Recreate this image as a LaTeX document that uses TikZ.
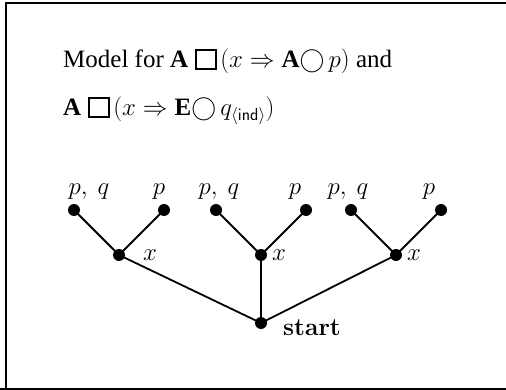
\documentclass[tikz,border=0pt]{standalone}
\usepackage[no-math]{fontspec}
\setmainfont{Liberation Serif}
\newcommand{\bigbox}{\mbox{\setlength{\fboxsep}{0pt}\setlength{\fboxrule}{1.8pt}\fbox{\rule{0pt}{17pt}\hspace{18pt}}}}
\tikzset{
  world/.style={circle,fill=black,inner sep=0pt,minimum size=12pt},
  edge/.style={line width=1.8pt},
  lbl/.style={anchor=base,inner sep=0pt,font=\fontsize{24}{28}\selectfont},
  ttl/.style={anchor=base west,inner sep=0pt,font=\fontsize{25}{30}\selectfont}
}
\begin{document}
\begin{tikzpicture}[x=1pt,y=-1pt]
\useasboundingbox (0,0) rectangle (506,390);
\draw[line width=2.4pt] (6,395) -- (6,3) -- (515,3);
\draw[line width=2.4pt] (0,389) -- (515,389);
\node[ttl] (t1) at (63,68) {Model for \textbf{A}\hspace{7pt}\bigbox\hspace{3.5pt}$(x\Rightarrow\textbf{A}{\bigcirc}\,p)$ and};
\node[ttl] (t2) at (63,116) {\textbf{A}\hspace{7pt}\bigbox\hspace{3.5pt}$(x\Rightarrow\textbf{E}{\bigcirc}\,q_{\langle\mathsf{ind}\rangle})$};
% tree
\node[world] (s) at (261,323) {};
\node[world] (m1) at (119,255) {};
\node[world] (m2) at (261,255) {};
\node[world] (m3) at (396,255) {};
\node[world] (l1) at (74,210) {};
\node[world] (l2) at (164,210) {};
\node[world] (l3) at (216,210) {};
\node[world] (l4) at (306,210) {};
\node[world] (l5) at (351,210) {};
\node[world] (l6) at (441,210) {};
\draw[edge] (s.center) -- (m1.center) (s.center) -- (m2.center) (s.center) -- (m3.center);
\draw[edge] (m1.center) -- (l1.center) (m1.center) -- (l2.center);
\draw[edge] (m2.center) -- (l3.center) (m2.center) -- (l4.center);
\draw[edge] (m3.center) -- (l5.center) (m3.center) -- (l6.center);
% labels
\node[lbl] (a1) at (89,195) {$p,\ q$};
\node[lbl] (b1) at (159,195) {$p$};
\node[lbl] (a2) at (219,195) {$p,\ q$};
\node[lbl] (b2) at (295,195) {$p$};
\node[lbl] (a3) at (348,195) {$p,\ q$};
\node[lbl] (b3) at (429,195) {$p$};
\node[lbl] (x1) at (150,261) {$x$};
\node[lbl] (x2) at (279,261) {$x$};
\node[lbl] (x3) at (414,261) {$x$};
\node[lbl] (st) at (312,335) {$\mathbf{start}$};
\end{tikzpicture}
\end{document}
